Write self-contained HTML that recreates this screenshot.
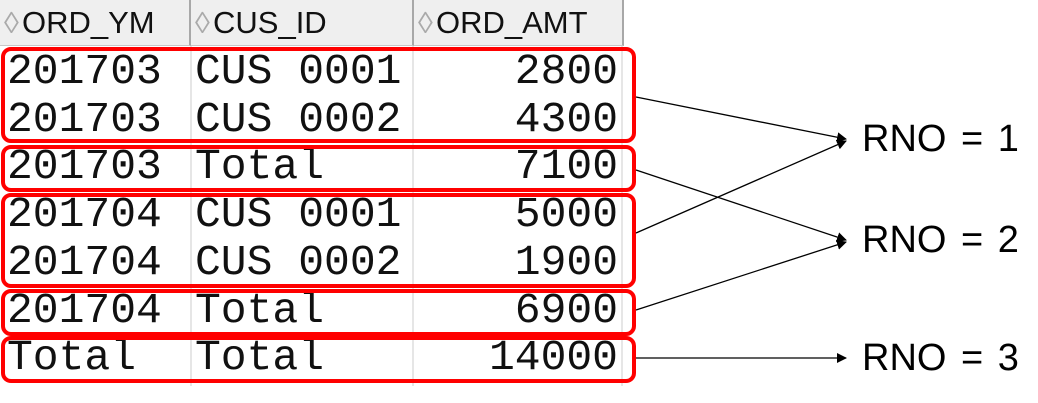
<!DOCTYPE html>
<html><head><meta charset="utf-8"><style>
body{margin:0;width:1038px;height:403px;background:#fff;position:relative;overflow:hidden;font-family:"Liberation Sans",sans-serif}
.hdr{position:absolute;top:0;height:46px;background:#efefef;border-right:2px solid #a8a8a8;border-bottom:1px solid #c8c8c8;box-sizing:border-box;font-size:31px;line-height:46px;color:#111;white-space:nowrap;overflow:hidden}
.hdr span.ic{display:inline-block;width:14px;margin:0 4px 0 4px;color:#aaa;font-size:30px;vertical-align:0}
.cell{position:absolute;font-family:"Liberation Mono",monospace;font-size:43px;color:#111;line-height:47px;height:47px}
.vl{position:absolute;width:2px;background:#e6e6e6;top:46px;height:340px}
.box{position:absolute;border:4px solid #f00;border-radius:10px;box-sizing:border-box;left:1px;width:635px}
.lbl{position:absolute;left:862px;font-size:38px;line-height:40px;color:#000;word-spacing:4px}
</style></head><body>
<div class="hdr" style="left:0;width:191px"><span class="ic">◊</span>ORD_YM</div>
<div class="hdr" style="left:191px;width:223px"><span class="ic">◊</span>CUS_ID</div>
<div class="hdr" style="left:414px;width:210px"><span class="ic">◊</span>ORD_AMT</div>
<div class="vl" style="left:190px"></div>
<div class="vl" style="left:412px"></div>
<div class="vl" style="left:621px"></div>
<div id="rows"></div>
<div class="box" style="top:47px;height:96px"></div>
<div class="box" style="top:145px;height:47px"></div>
<div class="box" style="top:193px;height:95px"></div>
<div class="box" style="top:289px;height:47px"></div>
<div class="box" style="top:336px;height:47px"></div>
<svg width="1038" height="403" style="position:absolute;left:0;top:0">
<defs><marker id="a" markerWidth="10" markerHeight="10" refX="9" refY="5" orient="auto" markerUnits="userSpaceOnUse"><path d="M0,0L10,5L0,10z" fill="#000"/></marker></defs>
<g stroke="#000" stroke-width="1.3" fill="none" marker-end="url(#a)">
<line x1="636" y1="97" x2="846" y2="139"/>
<line x1="636" y1="170" x2="846" y2="240"/>
<line x1="636" y1="233" x2="846" y2="141"/>
<line x1="636" y1="310" x2="846" y2="242"/>
<line x1="636" y1="358" x2="846" y2="358"/>
</g></svg>
<div class="lbl" style="top:119px">RNO = 1</div>
<div class="lbl" style="top:220px">RNO = 2</div>
<div class="lbl" style="top:338px">RNO = 3</div>
<script>
const ym=["201703","201703","201703","201704","201704","201704","Total"];
const cus=["CUS 0001","CUS 0002","Total","CUS 0001","CUS 0002","Total","Total"];
const amt=["2800","4300","7100","5000","1900","6900","14000"];
const rows=document.getElementById('rows');
for(let i=0;i<ym.length;i++){
  const top=48+i*47.7;
  const a=document.createElement('div');a.className='cell';a.style.left='7px';a.style.top=top+'px';a.textContent=ym[i];
  
  
  const b=document.createElement('div');b.className='cell';b.style.left='195px';b.style.top=top+'px';b.textContent=cus[i];
  
  
  const c=document.createElement('div');c.className='cell';c.style.right=(1038-618)+'px';c.style.top=top+'px';c.textContent=amt[i];
  
  
  rows.append(a,b,c);
}
</script>
</body></html>
